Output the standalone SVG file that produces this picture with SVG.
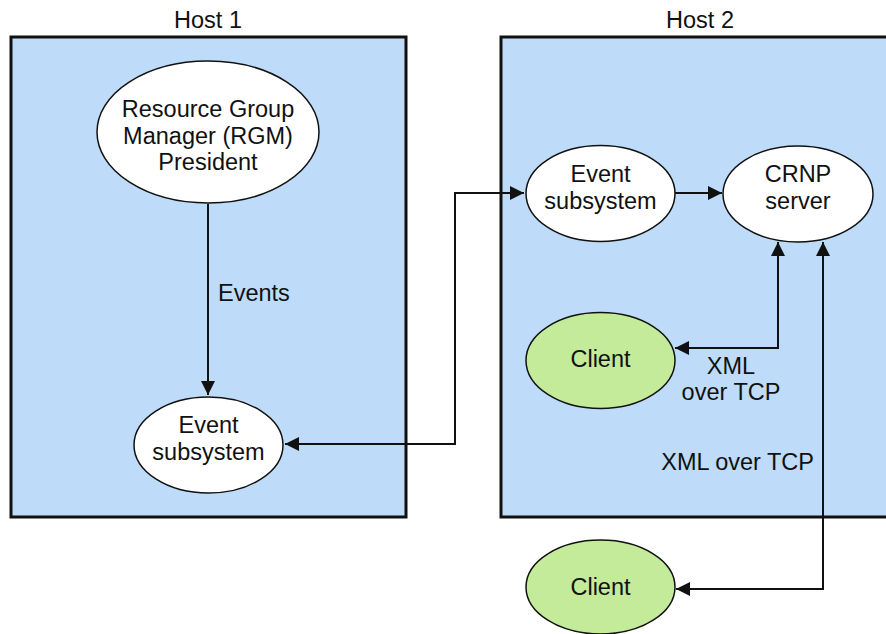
<svg xmlns="http://www.w3.org/2000/svg" width="886" height="634" viewBox="0 0 886 634">
<style>
.host{fill:#bedcf9;stroke:#111;stroke-width:3}
.node{fill:#fff;stroke:#111;stroke-width:1.5}
.client{fill:#c3eb9a;stroke:#111;stroke-width:1.5}
.t{font-family:"Liberation Sans",Arial,sans-serif;font-size:23.5px;fill:#111;text-anchor:middle}
.l{font-family:"Liberation Sans",Arial,sans-serif;font-size:23.5px;fill:#111}
.c{fill:none;stroke:#111;stroke-width:2}
</style>
<defs>
<marker id="ah" viewBox="0 0 14 14" refX="14" refY="7" markerWidth="14" markerHeight="14" markerUnits="userSpaceOnUse" orient="auto-start-reverse">
<path d="M0,0 L14,7 L0,14 z" fill="#111"/>
</marker>
</defs>
<rect width="886" height="634" fill="#fff"/>
<g id="host1">
<rect class="host" x="11" y="37" width="395" height="480"/>
<text class="t" x="208" y="28">Host 1</text>
</g>
<g id="host2">
<rect class="host" x="501" y="37" width="400" height="480"/>
<text class="t" x="700" y="28">Host 2</text>
</g>
<g id="connectors">
<path class="c" d="M208,204 V395" marker-end="url(#ah)"/>
<text class="l" x="218" y="301">Events</text>
<path class="c" d="M524,193 H455 V444 H285" marker-start="url(#ah)" marker-end="url(#ah)"/>
<path class="c" d="M675,193 H722" marker-end="url(#ah)"/>
<path class="c" d="M778,242 V348 H675" marker-start="url(#ah)" marker-end="url(#ah)"/>
<path class="c" d="M823,242 V589 H676" marker-start="url(#ah)" marker-end="url(#ah)"/>
<text class="l" x="731" y="374" text-anchor="middle">XML</text>
<text class="l" x="731" y="400" text-anchor="middle">over TCP</text>
<text class="l" x="814" y="470" text-anchor="end">XML over TCP</text>
</g>
<g id="rgm">
<ellipse class="node" cx="208" cy="132" rx="111" ry="71"/>
<text class="t" x="208" y="117">Resource Group</text>
<text class="t" x="208" y="144">Manager (RGM)</text>
<text class="t" x="208" y="170">President</text>
</g>
<g id="event1">
<ellipse class="node" cx="208.5" cy="445" rx="74.5" ry="48"/>
<text class="t" x="208.5" y="433">Event</text>
<text class="t" x="208.5" y="460">subsystem</text>
</g>
<g id="event2">
<ellipse class="node" cx="600.5" cy="193.5" rx="74.5" ry="48"/>
<text class="t" x="600.5" y="182">Event</text>
<text class="t" x="600.5" y="209">subsystem</text>
</g>
<g id="crnp">
<ellipse class="node" cx="798" cy="194" rx="75" ry="48"/>
<text class="t" x="798" y="182">CRNP</text>
<text class="t" x="798" y="209">server</text>
</g>
<g id="client1">
<ellipse class="client" cx="600.5" cy="360.5" rx="74.5" ry="48"/>
<text class="t" x="600.5" y="367">Client</text>
</g>
<g id="client2">
<ellipse class="client" cx="600.5" cy="587" rx="74.5" ry="47"/>
<text class="t" x="600.5" y="595">Client</text>
</g>
</svg>
